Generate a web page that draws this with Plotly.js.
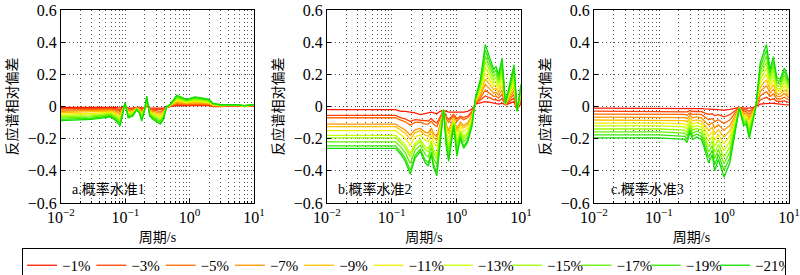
<!DOCTYPE html>
<html>
<head>
<meta charset="utf-8">
<script src="https://cdn.plot.ly/plotly-3.0.1.min.js"></script>
<style>html,body{margin:0;padding:0;background:#fff;}#chart{width:800px;height:275px;}</style>
</head>
<body>
<div id="chart"></div>
<script>
// ---------- data ----------
const levels = ['−1%','−3%','−5%','−7%','−9%','−11%','−13%','−15%','−17%','−19%','−21%'];

// Panel a: 概率水准1
const T_a = [0.01,0.03,0.06,0.072,0.083,0.09,0.099,0.111,0.13,0.15,0.165,0.18,0.2,0.215,0.24,0.27,0.35,0.39,0.44,0.49,0.63,0.9,1.2,1.45,2.0,2.3,3.0,5.5,7.0,10];
const a1  = [-0.005,-0.005,-0.005,-0.005,-0.01,-0.005,0,-0.01,-0.01,-0.005,-0.005,-0.01,-0.005,0,-0.01,-0.01,-0.01,-0.01,-0.005,0,0.005,0.005,0.005,0.005,0.005,0,0,0.005,0,0.005];
const a3  = [-0.013,-0.013,-0.011,-0.014,-0.021,-0.010,0.003,-0.016,-0.015,-0.007,-0.009,-0.018,-0.007,0.007,-0.015,-0.017,-0.02,-0.017,-0.005,0.001,0.012,0.009,0.011,0.010,0.009,0.002,0.001,0.006,0.001,0.006];
const a5  = [-0.022,-0.020,-0.017,-0.022,-0.032,-0.014,0.005,-0.022,-0.020,-0.008,-0.012,-0.026,-0.008,0.013,-0.020,-0.024,-0.03,-0.024,-0.004,0.002,0.018,0.013,0.016,0.015,0.013,0.004,0.002,0.006,0.001,0.006];
const a7  = [-0.030,-0.028,-0.023,-0.031,-0.043,-0.019,0.008,-0.028,-0.025,-0.010,-0.016,-0.034,-0.010,0.020,-0.025,-0.031,-0.04,-0.031,-0.004,0.003,0.025,0.017,0.022,0.020,0.017,0.006,0.004,0.007,0.002,0.007];
const a9  = [-0.038,-0.035,-0.029,-0.039,-0.054,-0.023,0.010,-0.034,-0.030,-0.011,-0.019,-0.042,-0.011,0.026,-0.030,-0.038,-0.05,-0.038,-0.003,0.004,0.031,0.021,0.027,0.025,0.021,0.008,0.005,0.008,0.002,0.008];
const a11 = [-0.047,-0.043,-0.035,-0.048,-0.065,-0.028,0.013,-0.040,-0.035,-0.013,-0.023,-0.050,-0.013,0.033,-0.035,-0.045,-0.06,-0.045,-0.003,0.005,0.038,0.025,0.033,0.030,0.025,0.010,0.006,0.009,0.003,0.009];
const a13 = [-0.055,-0.050,-0.041,-0.056,-0.076,-0.032,0.015,-0.046,-0.040,-0.014,-0.026,-0.058,-0.014,0.039,-0.040,-0.052,-0.07,-0.052,-0.002,0.006,0.044,0.029,0.038,0.035,0.029,0.012,0.007,0.009,0.004,0.009];
const a15 = [-0.063,-0.058,-0.047,-0.065,-0.087,-0.037,0.018,-0.052,-0.045,-0.016,-0.030,-0.066,-0.016,0.046,-0.045,-0.059,-0.08,-0.059,-0.002,0.007,0.051,0.033,0.044,0.040,0.033,0.014,0.008,0.010,0.004,0.010];
const a17 = [-0.071,-0.065,-0.053,-0.073,-0.098,-0.041,0.020,-0.058,-0.050,-0.017,-0.033,-0.074,-0.017,0.052,-0.050,-0.066,-0.09,-0.066,-0.001,0.008,0.057,0.037,0.049,0.045,0.037,0.016,0.010,0.011,0.005,0.011];
const a19 = [-0.080,-0.073,-0.059,-0.082,-0.109,-0.046,0.023,-0.064,-0.055,-0.019,-0.037,-0.082,-0.019,0.059,-0.055,-0.073,-0.10,-0.073,-0.001,0.009,0.064,0.041,0.055,0.050,0.041,0.018,0.011,0.011,0.005,0.011];
const a21 = [-0.088,-0.080,-0.065,-0.09,-0.12,-0.05,0.025,-0.07,-0.06,-0.02,-0.04,-0.09,-0.02,0.065,-0.06,-0.08,-0.11,-0.08,0,0.01,0.07,0.045,0.06,0.055,0.045,0.02,0.012,0.012,0.006,0.012];

// Panel b: 概率水准2
const T_b = [0.01,0.115,0.127,0.14,0.162,0.194,0.23,0.277,0.33,0.37,0.41,0.445,0.50,0.56,0.635,0.7,0.76,0.84,0.91,1.02,1.15,1.3,1.5,1.75,1.97,2.36,2.8,3.37,3.8,4.1,4.5,5.1,5.75,7.8,8.7,10];
const b1  = [-0.02,-0.02,-0.025,-0.03,-0.03,-0.035,-0.04,-0.05,-0.045,-0.04,-0.035,-0.04,-0.045,-0.03,-0.025,-0.03,-0.035,-0.035,-0.035,-0.035,-0.035,-0.035,-0.03,-0.015,0.015,0.025,0.03,0.025,0.02,0.02,0.015,0.02,0.01,0.03,-0.02,0.02];
const b3  = [-0.055,-0.055,-0.063,-0.071,-0.077,-0.093,-0.082,-0.085,-0.091,-0.090,-0.075,-0.091,-0.103,-0.063,-0.024,-0.063,-0.081,-0.063,-0.048,-0.076,-0.060,-0.069,-0.059,-0.031,0.019,0.040,0.066,0.052,0.041,0.043,0.034,0.048,0.011,0.053,-0.021,0.032];
const b5  = [-0.07,-0.07,-0.079,-0.087,-0.095,-0.116,-0.099,-0.098,-0.109,-0.109,-0.091,-0.111,-0.126,-0.076,-0.024,-0.076,-0.099,-0.074,-0.053,-0.093,-0.070,-0.082,-0.070,-0.037,0.022,0.054,0.101,0.078,0.062,0.066,0.052,0.076,0.012,0.076,-0.022,0.044];
const b7  = [-0.11,-0.11,-0.121,-0.131,-0.146,-0.179,-0.145,-0.136,-0.159,-0.164,-0.134,-0.168,-0.189,-0.113,-0.023,-0.113,-0.149,-0.104,-0.067,-0.138,-0.097,-0.119,-0.101,-0.054,0.026,0.069,0.137,0.105,0.083,0.089,0.071,0.104,0.013,0.099,-0.023,0.056];
const b9  = [-0.125,-0.125,-0.137,-0.149,-0.166,-0.204,-0.163,-0.151,-0.179,-0.185,-0.152,-0.190,-0.214,-0.127,-0.023,-0.127,-0.169,-0.116,-0.072,-0.156,-0.108,-0.134,-0.114,-0.061,0.029,0.083,0.172,0.131,0.104,0.112,0.089,0.132,0.014,0.122,-0.024,0.068];
const b11 = [-0.15,-0.15,-0.163,-0.176,-0.197,-0.243,-0.191,-0.174,-0.210,-0.218,-0.178,-0.224,-0.253,-0.149,-0.022,-0.149,-0.200,-0.135,-0.081,-0.184,-0.124,-0.157,-0.133,-0.072,0.033,0.098,0.208,0.158,0.125,0.135,0.108,0.160,0.015,0.145,-0.025,0.080];
const b13 = [-0.18,-0.18,-0.196,-0.211,-0.238,-0.293,-0.228,-0.204,-0.249,-0.261,-0.213,-0.268,-0.303,-0.177,-0.022,-0.177,-0.239,-0.159,-0.092,-0.219,-0.146,-0.186,-0.157,-0.085,0.036,0.112,0.243,0.184,0.146,0.158,0.126,0.188,0.016,0.168,-0.026,0.092];
const b15 = [-0.195,-0.195,-0.211,-0.227,-0.256,-0.316,-0.244,-0.218,-0.268,-0.281,-0.228,-0.288,-0.326,-0.191,-0.021,-0.191,-0.258,-0.170,-0.097,-0.236,-0.155,-0.199,-0.169,-0.092,0.040,0.127,0.279,0.211,0.167,0.181,0.145,0.216,0.017,0.191,-0.027,0.104];
const b17 = [-0.22,-0.22,-0.237,-0.254,-0.287,-0.355,-0.272,-0.241,-0.298,-0.314,-0.255,-0.322,-0.365,-0.213,-0.021,-0.213,-0.288,-0.189,-0.106,-0.263,-0.172,-0.222,-0.188,-0.102,0.043,0.141,0.314,0.237,0.188,0.204,0.163,0.244,0.018,0.214,-0.028,0.116];
const b19 = [-0.245,-0.245,-0.265,-0.284,-0.321,-0.397,-0.303,-0.266,-0.332,-0.350,-0.284,-0.360,-0.407,-0.237,-0.020,-0.237,-0.322,-0.209,-0.115,-0.294,-0.190,-0.247,-0.209,-0.114,0.047,0.156,0.350,0.264,0.209,0.227,0.182,0.272,0.019,0.237,-0.029,0.128];
const b21 = [-0.26,-0.26,-0.28,-0.30,-0.34,-0.42,-0.32,-0.28,-0.35,-0.37,-0.30,-0.38,-0.43,-0.25,-0.02,-0.25,-0.34,-0.22,-0.12,-0.31,-0.20,-0.26,-0.22,-0.12,0.05,0.17,0.385,0.29,0.23,0.25,0.20,0.30,0.02,0.26,-0.03,0.14];

// Panel c: 概率水准3
const T_c = [0.01,0.1,0.25,0.27,0.30,0.33,0.38,0.45,0.5,0.58,0.66,0.72,0.82,1.0,1.23,1.48,1.72,2.0,2.2,2.45,2.8,3.1,3.6,4.5,5.1,5.75,6.5,7.3,8.5,10];
const c1  = [-0.01,-0.01,-0.01,-0.012,-0.01,-0.012,-0.012,-0.013,-0.015,-0.015,-0.017,-0.018,-0.02,-0.022,-0.018,-0.012,-0.005,-0.01,-0.01,-0.01,-0.005,0,0.015,0.02,0.02,0.02,0.015,0.015,0.012,0.01];
const c3  = [-0.029,-0.029,-0.030,-0.033,-0.025,-0.031,-0.030,-0.032,-0.040,-0.049,-0.045,-0.056,-0.051,-0.064,-0.051,-0.028,-0.006,-0.021,-0.02,-0.029,-0.013,0,0.041,0.057,0.041,0.049,0.032,0.031,0.035,0.025];
const c5  = [-0.047,-0.047,-0.049,-0.055,-0.040,-0.051,-0.048,-0.051,-0.064,-0.082,-0.074,-0.094,-0.082,-0.106,-0.084,-0.044,-0.006,-0.032,-0.03,-0.048,-0.020,0,0.066,0.093,0.062,0.078,0.048,0.046,0.058,0.040];
const c7  = [-0.066,-0.066,-0.069,-0.076,-0.055,-0.070,-0.065,-0.071,-0.089,-0.116,-0.102,-0.133,-0.113,-0.147,-0.118,-0.059,-0.007,-0.043,-0.04,-0.067,-0.028,0,0.092,0.130,0.083,0.107,0.065,0.062,0.080,0.055];
const c9  = [-0.084,-0.084,-0.088,-0.097,-0.070,-0.089,-0.083,-0.090,-0.113,-0.149,-0.130,-0.171,-0.144,-0.189,-0.151,-0.075,-0.007,-0.054,-0.05,-0.086,-0.035,0,0.117,0.166,0.104,0.136,0.081,0.077,0.103,0.070];
const c11 = [-0.103,-0.103,-0.108,-0.119,-0.085,-0.109,-0.101,-0.109,-0.138,-0.183,-0.159,-0.209,-0.175,-0.231,-0.184,-0.091,-0.008,-0.065,-0.06,-0.105,-0.043,0,0.143,0.203,0.125,0.165,0.098,0.093,0.126,0.085];
const c13 = [-0.121,-0.121,-0.127,-0.140,-0.100,-0.128,-0.119,-0.128,-0.162,-0.216,-0.187,-0.247,-0.206,-0.273,-0.217,-0.107,-0.008,-0.076,-0.07,-0.124,-0.050,0,0.168,0.239,0.146,0.194,0.114,0.108,0.149,0.100];
const c15 = [-0.140,-0.140,-0.147,-0.161,-0.115,-0.147,-0.137,-0.147,-0.187,-0.250,-0.215,-0.285,-0.237,-0.315,-0.250,-0.123,-0.009,-0.087,-0.08,-0.143,-0.058,0,0.194,0.276,0.167,0.223,0.131,0.124,0.172,0.115];
const c17 = [-0.158,-0.158,-0.166,-0.182,-0.130,-0.166,-0.154,-0.167,-0.211,-0.283,-0.243,-0.324,-0.268,-0.356,-0.284,-0.138,-0.009,-0.098,-0.09,-0.162,-0.065,0,0.219,0.312,0.188,0.252,0.147,0.139,0.194,0.130];
const c19 = [-0.177,-0.177,-0.186,-0.204,-0.145,-0.186,-0.172,-0.186,-0.236,-0.317,-0.272,-0.362,-0.299,-0.398,-0.317,-0.154,-0.010,-0.109,-0.10,-0.181,-0.073,0,0.245,0.349,0.209,0.281,0.164,0.155,0.217,0.145];
const c21 = [-0.195,-0.195,-0.205,-0.225,-0.16,-0.205,-0.19,-0.205,-0.26,-0.35,-0.30,-0.40,-0.33,-0.44,-0.35,-0.17,-0.01,-0.12,-0.11,-0.20,-0.08,0,0.27,0.385,0.23,0.31,0.18,0.17,0.24,0.16];

const panelLabels = ['a.概率水准1','b.概率水准2','c.概率水准3'];
const xTickVals = [0.01,0.1,1,10];
const xTickText = ['10<sup>−2</sup>','10<sup>−1</sup>','10<sup>0</sup>','10<sup>1</sup>'];
const yTickVals = [-0.6,-0.4,-0.2,0,0.2,0.4,0.6];
const yTickText = ['−0.6','−0.4','−0.2','0','0.2','0.4','0.6'];

// ---------- style ----------
const colors = ['#FF1A00','#FF4000','#FF6A00','#FF9500','#FFC000','#F0F000','#C8FF00','#99FF00','#66F000','#33E800','#10DD00'];
const serif = 'Liberation Serif, "Times New Roman", "Noto Sans CJK SC", serif';
const cjk = 'Liberation Serif, "Noto Sans CJK SC", serif';

const panels = [
  {T: T_a, S: [a1,a3,a5,a7,a9,a11,a13,a15,a17,a19,a21]},
  {T: T_b, S: [b1,b3,b5,b7,b9,b11,b13,b15,b17,b19,b21]},
  {T: T_c, S: [c1,c3,c5,c7,c9,c11,c13,c15,c17,c19,c21]}
];

const minorVals = [];
[0.01,0.1,1].forEach(d => { for (let m = 2; m <= 9; m++) minorVals.push(d*m); });

const xDomains = [[61/800,254/800],[327/800,521/800],[594/800,789/800]];
const yDomain = [72/275, 265/275];
const labelX = [70/800, 336/800, 609/800];

const data = [];
panels.forEach((p, pi) => {
  p.S.forEach((ys, li) => {
    data.push({
      type: 'scatter', mode: 'lines',
      x: p.T, y: ys,
      name: levels[li], legendgroup: levels[li],
      showlegend: pi === 0,
      line: {color: colors[li], width: 1.3},
      xaxis: pi === 0 ? 'x' : 'x' + (pi+1),
      yaxis: pi === 0 ? 'y' : 'y' + (pi+1),
      hoverinfo: 'skip'
    });
  });
});

const gridDash = '1px,3px';
const gridColor = '#555';
const layout = {
  width: 800, height: 275,
  margin: {l: 0, r: 0, t: 0, b: 0, autoexpand: false},
  paper_bgcolor: '#fff', plot_bgcolor: '#fff',
  font: {family: serif, color: '#000', size: 16},
  showlegend: true,
  legend: {
    orientation: 'h', x: 22/800, xanchor: 'left', y: 27/275, yanchor: 'top',
    bordercolor: '#000', borderwidth: 1, bgcolor: '#fff',
    font: {family: serif, size: 15, color: '#000'},
    entrywidth: 24.3, entrywidthmode: 'pixels',
    tracegroupgap: 0, itemwidth: 30, valign: 'middle'
  },
  annotations: []
};

panels.forEach((p, pi) => {
  const sx = pi === 0 ? '' : String(pi+1);
  layout['xaxis' + sx] = {
    type: 'log', range: [-2, 1], domain: xDomains[pi],
    anchor: 'y' + sx,
    tickmode: 'array', tickvals: xTickVals, ticktext: xTickText,
    ticks: 'inside', ticklen: 4, tickcolor: '#000',
    showline: true, mirror: true, linecolor: '#000', linewidth: 1,
    showgrid: true, gridcolor: gridColor, griddash: gridDash, gridwidth: 1,
    zeroline: false,
    minor: {tickmode: 'array', tickvals: minorVals, ticks: 'inside', ticklen: 2, tickcolor: '#000',
            showgrid: true, gridcolor: gridColor, griddash: gridDash, gridwidth: 1},
    tickfont: {family: serif, size: 16, color: '#000'},
    title: {text: '周期/s', font: {family: cjk, size: 14, color: '#000'}, standoff: 6}
  };
  layout['yaxis' + sx] = {
    range: [-0.6, 0.6], domain: yDomain,
    anchor: 'x' + sx,
    tickmode: 'array', tickvals: yTickVals, ticktext: yTickText,
    ticks: 'inside', ticklen: 4, tickcolor: '#000',
    showline: true, mirror: true, linecolor: '#000', linewidth: 1,
    showgrid: true, gridcolor: gridColor, griddash: gridDash, gridwidth: 1,
    zeroline: false,
    tickfont: {family: serif, size: 16, color: '#000'},
    title: {text: '反应谱相对偏差', font: {family: cjk, size: 14, color: '#000'}, standoff: 6}
  };
  layout.annotations.push({
    text: panelLabels[pi], xref: 'paper', yref: 'paper',
    x: labelX[pi], y: (275-189)/275, xanchor: 'left', yanchor: 'middle',
    showarrow: false, font: {family: cjk, size: 14, color: '#000'}
  });
});

Plotly.newPlot('chart', data, layout, {staticPlot: true, displayModeBar: false});
</script>
</body>
</html>
